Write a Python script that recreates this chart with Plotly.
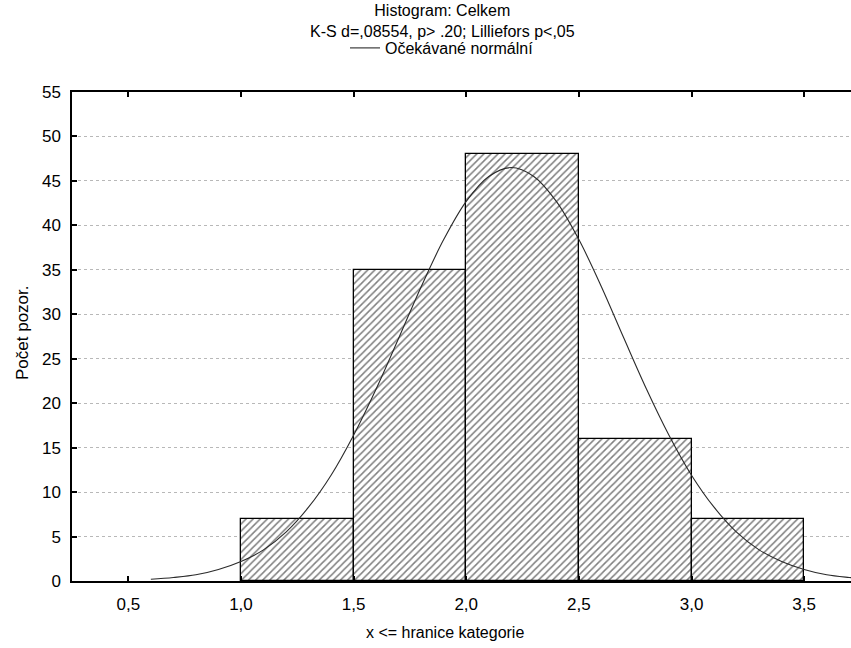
import plotly.graph_objects as go

# histogram bins (left edge) and counts
bin_left = [1.0, 1.5, 2.0, 2.5, 3.0]
bin_width = 0.5
counts = [7, 35, 48, 16, 7]

# expected normal curve
curve_x = [0.6, 0.7, 0.8, 0.9, 1.0, 1.1, 1.2, 1.3, 1.4, 1.5, 1.6, 1.7, 1.8, 1.9, 2.0,
           2.1, 2.2, 2.3, 2.4, 2.5, 2.6, 2.7, 2.8, 2.9, 3.0, 3.1, 3.2, 3.3, 3.4, 3.5,
           3.6, 3.7, 3.8]
curve_y = [0.2, 0.4, 0.7, 1.3, 2.2, 3.5, 5.5, 8.3, 11.9, 16.4, 21.6, 27.3, 33.1, 38.4, 42.7,
           45.5, 46.5, 45.5, 42.7, 38.4, 33.1, 27.3, 21.6, 16.4, 11.9, 8.3, 5.5, 3.5, 2.2, 1.3,
           0.7, 0.4, 0.2]

x_ticks = [0.5, 1.0, 1.5, 2.0, 2.5, 3.0, 3.5]
x_tick_labels = ["0,5", "1,0", "1,5", "2,0", "2,5", "3,0", "3,5"]
y_ticks = list(range(0, 56, 5))

FONT = "Arial, Liberation Sans, sans-serif"

# plot area in page pixels
PX_L, PX_R, PX_T, PX_B = 72, 851, 92, 581


def px(x, y):
    return (x - PX_L) / (PX_R - PX_L), (PX_B - y) / (PX_B - PX_T)


fig = go.Figure()

fig.add_trace(go.Bar(
    x=bin_left, y=counts, width=bin_width, offset=0,
    marker=dict(color="white",
                line=dict(color="black", width=1.3),
                pattern=dict(shape="/", fgcolor="black", bgcolor="white", size=5, solidity=0.3)),
    showlegend=False, hoverinfo="skip",
))

fig.add_trace(go.Scatter(
    x=curve_x, y=curve_y, mode="lines", line=dict(color="#2a2a2a", width=1.1, shape="spline"),
    name="Očekávané normální", showlegend=True,
))

lx, ly = px(442, 48)
fig.update_layout(
    width=851, height=648,
    margin=dict(l=72, r=0, t=92, b=67),
    paper_bgcolor="white", plot_bgcolor="white",
    font=dict(family=FONT, size=17, color="black"),
    bargap=0,
    legend=dict(orientation="h", x=lx, xanchor="center", y=ly, yanchor="middle",
                font=dict(size=16), bgcolor="rgba(0,0,0,0)", itemwidth=30),
    xaxis=dict(range=[0.25, 3.708], tickvals=x_ticks, ticktext=x_tick_labels,
               ticks="inside", ticklen=5, tickcolor="black", tickwidth=1.5,
               showline=True, linecolor="black", linewidth=1.5, mirror="ticks",
               showgrid=False, zeroline=False, ticklabelstandoff=7, automargin=False),
    yaxis=dict(range=[0, 55], tickvals=y_ticks,
               ticks="inside", ticklen=5, tickcolor="black", tickwidth=1.5,
               showline=True, linecolor="black", linewidth=1.5,
               showgrid=True, gridcolor="#b8b8b8", gridwidth=1, griddash="3px,3px",
               zeroline=False, ticklabelstandoff=6, automargin=False),
)

for text, (x, y), size, angle in [
    ("Histogram: Celkem<br>K-S d=,08554, p> .20; Lilliefors p<,05", (442, 21), 16, 0),
    ("x <= hranice kategorie", (445, 632), 16, 0),
    ("Počet pozor.", (22, 333), 17, -90),
]:
    ax, ay = px(x, y)
    fig.add_annotation(text=text, xref="paper", yref="paper", x=ax, y=ay, showarrow=False,
                       xanchor="center", yanchor="middle", textangle=angle,
                       font=dict(size=size))

# drop the browser's default body margin so the figure sits at the page corner
fig.write_html("out.html", config={"displayModeBar": False},
               post_script="document.body.style.margin = '0';")
